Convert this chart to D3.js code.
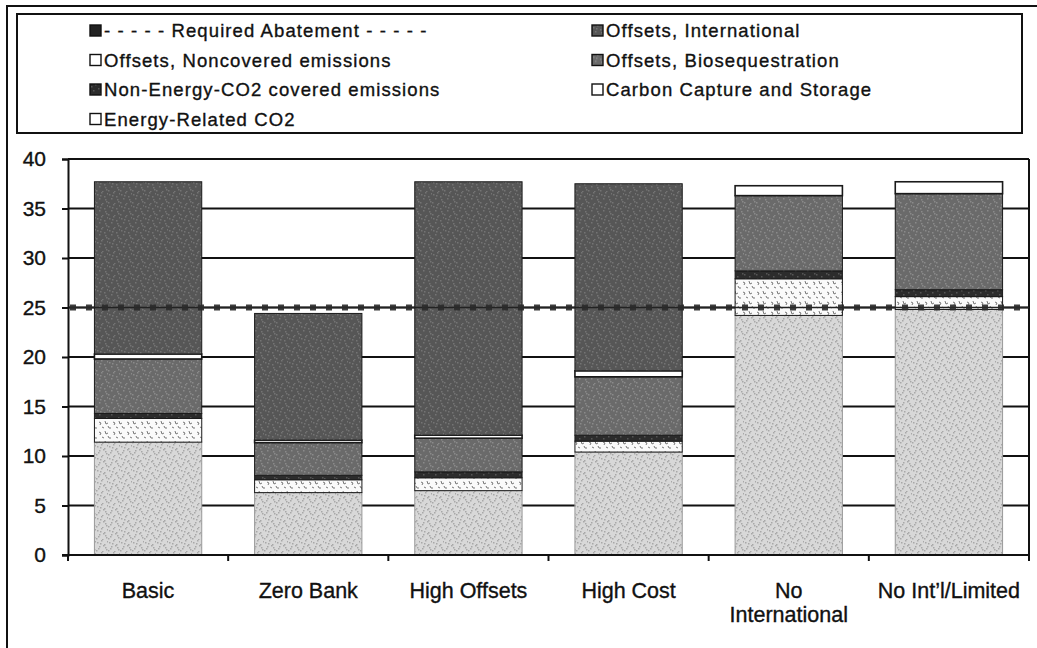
<!DOCTYPE html>
<html>
<head>
<meta charset="utf-8">
<script src="https://cdn.jsdelivr.net/npm/d3@7"></script>
<style>
  body { margin: 0; background: #fff; }
  text { font-family: "Liberation Sans", Arial, sans-serif; fill: #111; stroke: #111; stroke-width: 0.35px; }
</style>
</head>
<body>
<div id="chart"></div>
<script>
var svgWidth = 1037;
var svgHeight = 648;

// scenarios on the x axis
var categories = ["Basic", "Zero Bank", "High Offsets", "High Cost", "No International", "No Int\u2019l/Limited"];
var categoryLabels = [["Basic"], ["Zero Bank"], ["High Offsets"], ["High Cost"], ["No", "International"], ["No Int\u2019l/Limited"]];

// stacked series, bottom to top
var energyCO2     = [11.4, 6.3, 6.5, 10.4, 24.2, 24.8];
var ccs           = [2.4, 1.3, 1.3, 1.1, 3.7, 1.3];
var nonEnergyCO2  = [0.5, 0.45, 0.6, 0.6, 0.8, 0.7];
var offsetsBio    = [5.5, 3.3, 3.4, 5.9, 7.6, 9.7];
var offsetsNoncov = [0.5, 0.25, 0.3, 0.6, 1.0, 1.2];
var offsetsIntl   = [17.4, 12.8, 25.6, 18.9, 0, 0];

var requiredAbatement = 25;
var yTicks = [0, 5, 10, 15, 20, 25, 30, 35, 40];

var keys = ["energy", "ccs", "nonEnergy", "bio", "noncov", "intl"];
var table = categories.map(function(c, i) {
  return {
    cat: c,
    energy: energyCO2[i],
    ccs: ccs[i],
    nonEnergy: nonEnergyCO2[i],
    bio: offsetsBio[i],
    noncov: offsetsNoncov[i],
    intl: offsetsIntl[i]
  };
});

var plot = { left: 68, right: 1029, top: 159, bottom: 555 };

var svg = d3.select("#chart")
  .append("svg")
  .attr("width", svgWidth)
  .attr("height", svgHeight);

// textures
var defs = svg.append("defs");

function speckle(id, base, dot, step, count) {
  var p = defs.append("pattern")
    .attr("id", id)
    .attr("patternUnits", "userSpaceOnUse")
    .attr("width", step)
    .attr("height", step);
  p.append("rect").attr("width", step).attr("height", step).attr("fill", base);
  var spots = [[1, 2], [5, 0], [3, 6], [8, 4], [10, 9], [0, 10], [6, 11], [11, 1], [4, 3], [9, 7], [2, 8], [7, 5]];
  spots.slice(0, count).forEach(function(s) {
    p.append("rect")
      .attr("x", s[0] % step).attr("y", s[1] % step)
      .attr("width", 1.5).attr("height", 1.5)
      .attr("fill", dot);
  });
}
speckle("pEnergy", "#d8d8d8", "#a8a8a8", 12, 12);
speckle("pIntl", "#565656", "#747474", 12, 10);
speckle("pBio", "#6a6a6a", "#8a8a8a", 12, 10);
speckle("pNon", "#2c2c2c", "#555", 12, 6);

var pc = defs.append("pattern")
  .attr("id", "pCCS")
  .attr("patternUnits", "userSpaceOnUse")
  .attr("width", 14).attr("height", 10);
pc.append("rect").attr("width", 14).attr("height", 10).attr("fill", "#fafafa");
pc.append("path").attr("d", "M1,2 l2,1 l-1,2 M7,1 l1,3 l2,-1 M4,7 l2,1 M10,6 l1,2 l2,0")
  .attr("stroke", "#777").attr("stroke-width", 1).attr("fill", "none");

var fills = {
  energy: "url(#pEnergy)",
  ccs: "url(#pCCS)",
  nonEnergy: "url(#pNon)",
  bio: "url(#pBio)",
  noncov: "#ffffff",
  intl: "url(#pIntl)"
};

// outer frame
svg.append("path")
  .attr("d", "M7," + svgHeight + " L7,6 L" + svgWidth + ",6")
  .attr("fill", "none").attr("stroke", "#111").attr("stroke-width", 2);

// legend
var legend = svg.append("g");
legend.append("rect")
  .attr("x", 17).attr("y", 14).attr("width", 1005).attr("height", 119)
  .attr("fill", "#fff").attr("stroke", "#111").attr("stroke-width", 2);

var legendItems = [
  { label: "- - - - - Required Abatement - - - - -", fill: "#222", col: 0, row: 0 },
  { label: "Offsets, International", fill: "url(#pIntl)", col: 1, row: 0 },
  { label: "Offsets, Noncovered emissions", fill: "#fff", col: 0, row: 1 },
  { label: "Offsets, Biosequestration", fill: "url(#pBio)", col: 1, row: 1 },
  { label: "Non-Energy-CO2 covered emissions", fill: "url(#pNon)", col: 0, row: 2 },
  { label: "Carbon Capture and Storage", fill: "#fff", col: 1, row: 2 },
  { label: "Energy-Related CO2", fill: "#fff", col: 0, row: 3 }
];
var colX = [90, 592];
legend.selectAll("g.item")
  .data(legendItems)
  .enter()
  .append("g")
  .attr("class", "item")
  .attr("transform", d => `translate(${colX[d.col]}, ${37 + d.row * 29.5})`)
  .each(function(d) {
    var g = d3.select(this);
    g.append("rect")
      .attr("x", 0).attr("y", -12).attr("width", 11).attr("height", 11)
      .attr("fill", d.fill).attr("stroke", "#111").attr("stroke-width", 1.4);
    g.append("text")
      .attr("x", 14).attr("y", 0)
      .attr("font-size", "18.5px")
      .attr("letter-spacing", "1.1px")
      .text(d.label);
  });

// scales
var x = d3.scaleBand()
  .domain(categories)
  .range([plot.left, plot.right])
  .paddingInner(0.33)
  .paddingOuter(0.165);

var y = d3.scaleLinear()
  .domain([0, 40])
  .range([plot.bottom, plot.top]);

var chartGroup = svg.append("g");

// gridlines
chartGroup.selectAll(".grid")
  .data(yTicks.filter(t => t > 0))
  .enter()
  .append("line")
  .attr("x1", plot.left).attr("x2", plot.right)
  .attr("y1", d => y(d)).attr("y2", d => y(d))
  .attr("stroke", "#111").attr("stroke-width", 2);

chartGroup.append("line")
  .attr("x1", plot.right).attr("x2", plot.right)
  .attr("y1", plot.top).attr("y2", plot.bottom)
  .attr("stroke", "#111").attr("stroke-width", 2);

// stacked bars
var series = d3.stack().keys(keys)(table);

chartGroup.selectAll("g.layer")
  .data(series)
  .enter()
  .append("g")
  .attr("class", "layer")
  .selectAll("rect")
  .data(function(s) { return s.map(function(d) { d.key = s.key; return d; }); })
  .enter()
  .append("rect")
  .filter(d => d[1] - d[0] > 0)
  .attr("x", d => x(d.data.cat))
  .attr("width", x.bandwidth())
  .attr("y", d => y(d[1]))
  .attr("height", d => y(d[0]) - y(d[1]))
  .attr("fill", d => fills[d.key])
  .attr("stroke", d => d.key === "energy" ? "#999" : "#1a1a1a")
  .attr("stroke-width", d => d.key === "noncov" ? 1.6 : 1);

// required abatement line
var abate = chartGroup.append("g");
abate.append("line")
  .attr("x1", plot.left).attr("x2", plot.right)
  .attr("y1", y(requiredAbatement)).attr("y2", y(requiredAbatement))
  .attr("stroke", "#222").attr("stroke-width", 1.6);
abate.append("line")
  .attr("x1", plot.left + 2).attr("x2", plot.right)
  .attr("y1", y(requiredAbatement)).attr("y2", y(requiredAbatement))
  .attr("stroke", "#2a2a2a").attr("stroke-width", 6)
  .attr("stroke-dasharray", "6,10")
  .attr("opacity", 0.9);

// axes
var leftAxis = d3.axisLeft(y).tickValues(yTicks).tickSize(6).tickPadding(16);
var yAxisG = chartGroup.append("g")
  .attr("transform", `translate(${plot.left}, 0)`)
  .call(leftAxis);
yAxisG.select(".domain").attr("stroke", "#111").attr("stroke-width", 2);
yAxisG.selectAll(".tick line").attr("stroke", "#111").attr("stroke-width", 2);
yAxisG.selectAll(".tick text")
  .attr("font-size", "21px")
  .attr("font-family", "Liberation Sans, Arial, sans-serif")
  .attr("fill", "#111");

// bottom baseline with ticks between categories
chartGroup.append("line")
  .attr("x1", plot.left - 6).attr("x2", plot.right)
  .attr("y1", plot.bottom).attr("y2", plot.bottom)
  .attr("stroke", "#111").attr("stroke-width", 2);
var step = x.step();
chartGroup.selectAll(".xtick")
  .data(d3.range(categories.length + 1))
  .enter()
  .append("line")
  .attr("x1", i => plot.left + i * step).attr("x2", i => plot.left + i * step)
  .attr("y1", plot.bottom).attr("y2", plot.bottom + 6)
  .attr("stroke", "#111").attr("stroke-width", 2);

// category labels
chartGroup.selectAll(".xlabel")
  .data(categories)
  .enter()
  .append("text")
  .attr("class", "xlabel")
  .attr("text-anchor", "middle")
  .attr("font-size", "21.5px")
  .attr("x", d => x(d) + x.bandwidth() / 2)
  .attr("y", 598)
  .each(function(d, i) {
    var t = d3.select(this);
    categoryLabels[i].forEach(function(line, j) {
      t.append("tspan")
        .attr("x", x(d) + x.bandwidth() / 2)
        .attr("dy", j === 0 ? 0 : 24)
        .text(line);
    });
  });
</script>
</body>
</html>
